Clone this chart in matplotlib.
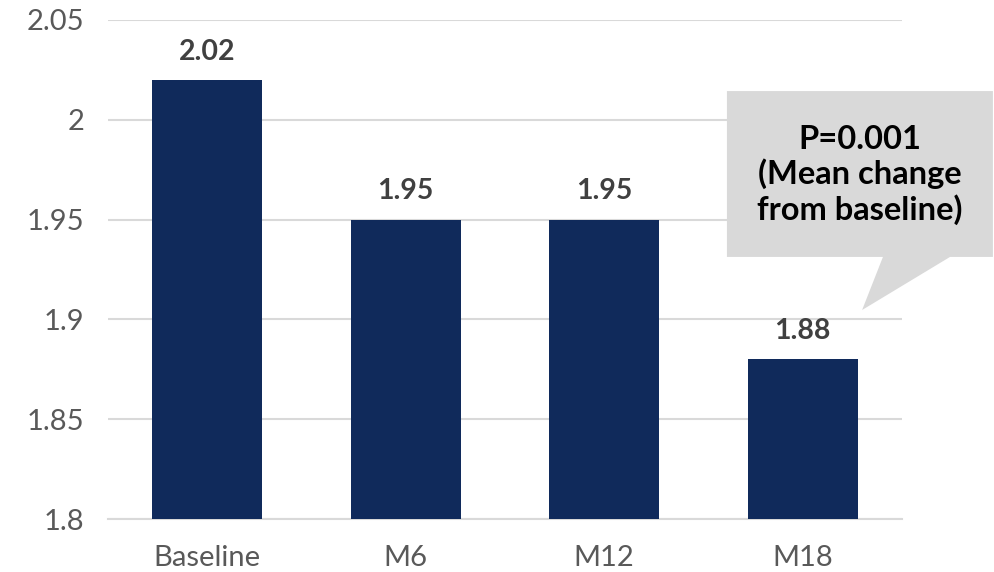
import numpy as np
import matplotlib.pyplot as plt
from matplotlib.patches import Polygon

categories = ['Baseline', 'M6', 'M12', 'M18']
values = [2.02, 1.95, 1.95, 1.88]
yticks = [1.8, 1.85, 1.9, 1.95, 2.0, 2.05]
ytick_labels = ['1.8', '1.85', '1.9', '1.95', '2', '2.05']
note = 'P=0.001\n(Mean change\nfrom baseline)'

plt.rcParams['font.family'] = ['Lato', 'DejaVu Sans']

fig = plt.figure(figsize=(9.94, 5.72), dpi=100)
ax = fig.add_axes([108 / 994, 53 / 572, 794 / 994, 499 / 572])

x = np.arange(len(categories))
ax.bar(x, values, width=0.555, color='#102A5B', zorder=3)

for xi, v in zip(x, values):
    ax.annotate(f'{v:.2f}', (xi, v), xytext=(0, 11), textcoords='offset points',
                ha='center', va='bottom', fontsize=20.5, fontweight='bold', color='#404040')

ax.set_xlim(-0.5, 3.5)
ax.set_ylim(1.8, 2.05)
ax.set_yticks(yticks)
ax.set_yticklabels(ytick_labels)
ax.set_xticks(x)
ax.set_xticklabels(categories)
ax.tick_params(axis='both', length=0, labelsize=21, labelcolor='#595959')
ax.tick_params(axis='y', pad=17)
ax.tick_params(axis='x', pad=19)

ax.grid(axis='y', color='#D9D9D9', linewidth=1.5, zorder=0)
for s in ['top', 'right', 'left']:
    ax.spines[s].set_visible(False)
ax.spines['bottom'].set_color('#D9D9D9')
ax.spines['bottom'].set_linewidth(1.5)

# speech-bubble callout pointing at the last bar
bubble = [(2.618, 2.0144), (3.958, 2.0144), (3.958, 1.9313), (3.742, 1.9313),
          (3.299, 1.9047), (3.404, 1.9313), (2.618, 1.9313)]
ax.add_patch(Polygon(bubble, closed=True, facecolor='#D9D9D9', edgecolor='none',
                     clip_on=False, zorder=4))
ax.text(3.288, 1.9725, note, ha='center', va='center', fontsize=23.5,
        fontweight='bold', color='black', linespacing=1.18, zorder=5)

fig.savefig('out.png', dpi=100)
